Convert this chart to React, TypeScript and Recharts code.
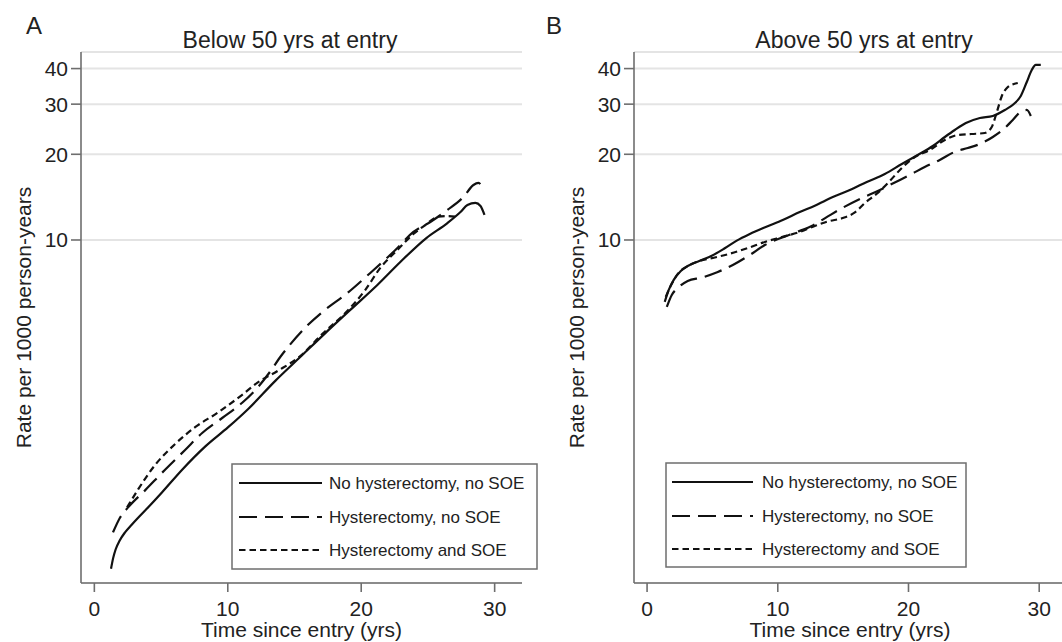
import { LineChart, Line, XAxis, YAxis, CartesianGrid, Legend } from 'recharts';

// time since entry (yrs), rate per 1000 person-years
const belowNone: [number, number][] = [
  [1.25, 0.7], [1.4, 0.76], [1.6, 0.82], [1.9, 0.88], [2.3, 0.94], [2.8, 1.0], [3.3, 1.06], [4.18, 1.17],
  [5.08, 1.3], [6.58, 1.56], [8.3, 1.88], [10.03, 2.2], [11.53, 2.55], [13.56, 3.2], [15.43, 3.88],
  [17.31, 4.71], [19.18, 5.68], [21.21, 6.95], [22.93, 8.37], [24.88, 10.16], [26.46, 11.47],
  [27.44, 12.54], [27.96, 13.27], [28.56, 13.49], [28.94, 13.16], [29.24, 12.24],
];
const belowHyst: [number, number][] = [
  [1.4, 0.94], [1.93, 1.06], [2.53, 1.15], [3.8, 1.32], [5.3, 1.56], [6.8, 1.83], [8.08, 2.1],
  [9.58, 2.37], [11.08, 2.68], [12.28, 3.05], [13.18, 3.45], [14.0, 3.92], [14.68, 4.3], [15.8, 4.92],
  [17.16, 5.62], [18.96, 6.51], [20.68, 7.66], [22.56, 9.22], [23.91, 10.67], [25.18, 11.57],
  [26.46, 12.75], [27.66, 14.16], [28.41, 15.6], [28.79, 15.86], [29.16, 14.98],
];
const belowHystSoe: [number, number][] = [
  [2.45, 1.15], [3.28, 1.33], [4.55, 1.62], [6.05, 1.92], [7.55, 2.2], [9.28, 2.48], [11.08, 2.86],
  [12.2, 3.15], [13.7, 3.46], [15.43, 3.91], [17.16, 4.71], [18.81, 5.54], [20.31, 6.68], [21.43, 7.98],
  [22.71, 9.22], [23.91, 10.5], [24.81, 11.29], [25.71, 12.05], [26.46, 12.14], [27.21, 12.05],
];

const aboveNone: [number, number][] = [
  [1.35, 6.06], [1.66, 6.68], [2.04, 7.24], [2.58, 7.78], [3.11, 8.1], [4.03, 8.45], [4.95, 8.8],
  [5.94, 9.35], [6.86, 9.95], [7.86, 10.5], [9.08, 11.11], [10.38, 11.76], [11.68, 12.54], [12.83, 13.2],
  [14.21, 14.16], [15.51, 14.98], [16.81, 15.99], [18.19, 17.05], [19.49, 18.49], [20.71, 19.89],
  [21.86, 21.39], [22.78, 23.0], [23.54, 24.34], [24.39, 25.76], [25.46, 26.83], [26.45, 27.27],
  [27.37, 28.62], [28.06, 30.04], [28.59, 32.05], [29.05, 35.89], [29.43, 39.55], [29.74, 41.19], [30.12, 41.19],
];
const aboveHyst: [number, number][] = [
  [1.51, 5.82], [1.89, 6.41], [2.35, 6.78], [3.11, 7.18], [4.19, 7.38], [5.41, 7.72], [6.56, 8.17],
  [7.86, 8.86], [9.01, 9.6], [10.23, 10.16], [11.46, 10.67], [12.68, 11.25], [13.83, 12.1], [15.13, 13.1],
  [16.43, 14.04], [17.65, 14.86], [18.87, 15.86], [20.1, 16.92], [21.24, 18.05], [22.39, 19.1],
  [23.54, 20.4], [24.54, 21.04], [25.46, 21.74], [26.45, 23.0], [27.29, 24.54], [27.98, 26.4],
  [28.67, 28.39], [29.05, 28.62], [29.36, 27.27],
];
const aboveHystSoe: [number, number][] = [
  [1.43, 6.31], [1.81, 6.9], [2.35, 7.6], [3.11, 8.1], [4.03, 8.44], [5.18, 8.68], [6.33, 8.95],
  [7.7, 9.37], [9.01, 9.84], [10.31, 10.24], [11.68, 10.67], [12.83, 11.2], [13.83, 11.62], [14.98, 11.95],
  [15.9, 12.5], [16.67, 13.5], [17.65, 14.63], [18.57, 16.12], [19.49, 17.9], [20.48, 19.57],
  [21.63, 20.71], [22.78, 22.45], [23.77, 23.38], [24.84, 23.57], [25.84, 23.76], [26.37, 24.94],
  [26.76, 28.16], [27.14, 32.05], [27.6, 34.47], [28.06, 35.31], [28.36, 35.61],
];

const xTicks = [0, 10, 20, 30];
const yTicks = [10, 20, 30, 40];
const groupNames = ['No hysterectomy, no SOE', 'Hysterectomy, no SOE', 'Hysterectomy and SOE'];
const dashes = ['', '18 8', '6.5 4'];

const toPts = (arr: [number, number][]) => arr.map(([t, v]) => ({ t, v }));

const FONT = '"Liberation Sans", Arial, Helvetica, sans-serif';
const AXIS = '#6e6e6e';
const INK = '#222';

function LegendBox({ w, h, x0, x1, tx, rows }: any) {
  return (
    <svg width={w} height={h} style={{ display: 'block' }}>
      <rect x={1} y={1} width={w - 2} height={h - 2} fill="#fff" stroke={AXIS} strokeWidth={1.5} />
      {groupNames.map((name, i) => (
        <g key={name}>
          <line x1={x0} x2={x1} y1={rows[i]} y2={rows[i]} stroke="#111" strokeWidth={2.2} strokeDasharray={dashes[i] || undefined} />
          <text x={tx} y={rows[i]} dy="0.35em" fontSize={17} fill={INK} fontFamily={FONT}>{name}</text>
        </g>
      ))}
    </svg>
  );
}

function Panel({ series, width, right, yAxisWidth, yLabelOffset, legend }: any) {
  return (
    <LineChart width={width} height={642} margin={{ top: 52, right, bottom: 0, left: 0 }}>
      <CartesianGrid vertical={false} stroke="#e4e4e4" strokeWidth={2} />
      <XAxis
        dataKey="t"
        type="number"
        domain={[-1, 32.05]}
        allowDataOverflow
        ticks={xTicks}
        interval={0}
        height={59}
        stroke={AXIS}
        strokeWidth={1.6}
        tickSize={9}
        tickMargin={9}
        tick={{ fontSize: 21, fill: INK }}
        label={{ value: 'Time since entry (yrs)', position: 'insideBottom', offset: 5, fontSize: 21, fill: INK }}
      />
      <YAxis
        type="number"
        scale="log"
        domain={[0.624, 45.74]}
        allowDataOverflow
        ticks={yTicks}
        interval={0}
        width={yAxisWidth}
        stroke={AXIS}
        strokeWidth={1.6}
        tickSize={10}
        tickMargin={3}
        tick={{ fontSize: 21, fill: INK }}
        label={{
          value: 'Rate per 1000 person-years',
          angle: -90,
          position: 'insideLeft',
          offset: yLabelOffset,
          fontSize: 21,
          fill: INK,
          style: { textAnchor: 'middle' },
        }}
      />
      <Legend
        layout="vertical"
        verticalAlign="middle"
        align="center"
        wrapperStyle={{ left: legend.left, top: legend.top, width: legend.w, height: legend.h }}
        content={() => <LegendBox {...legend} />}
      />
      {series.map((s: [number, number][], i: number) => (
        <Line
          key={groupNames[i]}
          data={toPts(s)}
          dataKey="v"
          name={groupNames[i]}
          type="monotone"
          stroke="#111"
          strokeWidth={2.2}
          strokeDasharray={dashes[i] || undefined}
          dot={false}
          activeDot={false}
          isAnimationActive={false}
        />
      ))}
    </LineChart>
  );
}

const textStyle = (left: number, top: number, size: number, extra: any = {}) => ({
  position: 'absolute' as const,
  left,
  top,
  fontSize: size,
  lineHeight: `${size}px`,
  color: INK,
  whiteSpace: 'nowrap' as const,
  ...extra,
});

export default function App() {
  return (
    <div style={{ position: 'absolute', left: 0, top: 0, width: 1062, height: 642, overflow: 'hidden', background: '#fff', fontFamily: FONT }}>
      <div style={{ position: 'absolute', left: 0, top: 0 }}>
        <Panel
          series={[belowNone, belowHyst, belowHystSoe]}
          width={531}
          right={9}
          yAxisWidth={81}
          yLabelOffset={24}
          legend={{ left: 231, top: 463, w: 307, h: 107, x0: 8, x1: 91, tx: 98, rows: [20, 54, 87] }}
        />
      </div>
      <div style={{ position: 'absolute', left: 531, top: 0 }}>
        <Panel
          series={[aboveNone, aboveHyst, aboveHystSoe]}
          width={540}
          right={5}
          yAxisWidth={103}
          yLabelOffset={46}
          legend={{ left: 134, top: 462, w: 302, h: 106, x0: 7, x1: 88, tx: 97, rows: [20, 54, 87] }}
        />
      </div>
      <div style={textStyle(26, 14, 24)}>A</div>
      <div style={textStyle(546, 14, 24)}>B</div>
      <div style={textStyle(290, 29, 23, { transform: 'translateX(-50%)' })}>Below 50 yrs at entry</div>
      <div style={textStyle(864, 29, 23, { transform: 'translateX(-50%)' })}>Above 50 yrs at entry</div>
    </div>
  );
}
